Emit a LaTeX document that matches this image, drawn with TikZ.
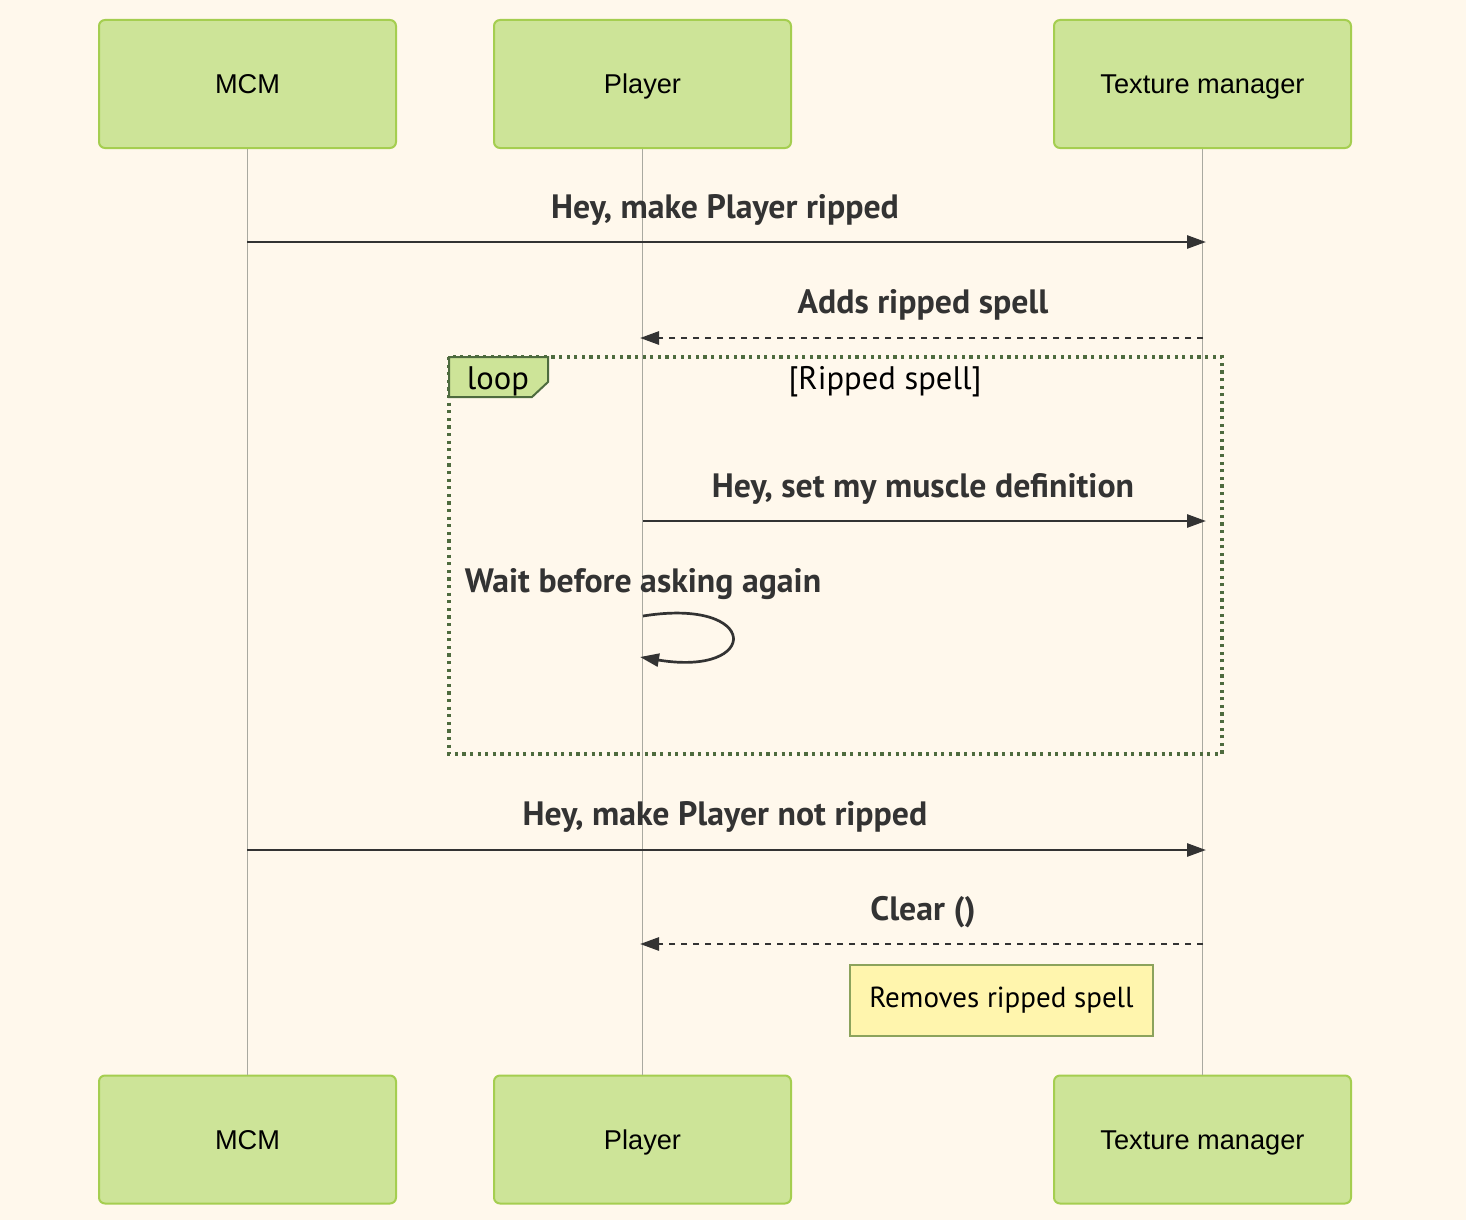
\documentclass[tikz,border=0pt]{standalone}
\usepackage{fontspec}
\setmainfont{Liberation Sans}
\newfontfamily\msgfont{PT Sans}
\usetikzlibrary{arrows.meta}
\definecolor{bg}{HTML}{FFF8EC}
\definecolor{actfill}{HTML}{CDE498}
\definecolor{actborder}{HTML}{A5CE50}
\definecolor{life}{HTML}{A9A9A0}
\definecolor{msg}{HTML}{333333}
\definecolor{loopc}{HTML}{4E6B3E}
\definecolor{notefill}{HTML}{FFF5AD}
\definecolor{noteborder}{HTML}{8CA35C}
\begin{document}
\begin{tikzpicture}[x=0.5pt,y=-0.5pt,
  actor/.style={draw=actborder, fill=actfill, line width=1pt, rounded corners=3pt,
    minimum width=148.5pt, minimum height=64pt, inner sep=0pt,
    text height=9.7pt, text depth=0pt,
    font=\fontsize{13.6}{16}\selectfont},
  lifeline/.style={draw=life, line width=0.75pt},
  msgline/.style={draw=msg, line width=1.35pt, -{Triangle[length=9.5pt,width=6.5pt]}},
  reply/.style={msgline, dash pattern=on 3.2pt off 2.8pt},
  msglabel/.style={font=\msgfont\bfseries\fontsize{16.9}{20}\selectfont, text=msg,
    inner sep=0pt, anchor=base},
  looptext/.style={font=\msgfont\fontsize{16.3}{19}\selectfont, text=black, inner sep=0pt},
  loopbox/.style={draw=loopc, line width=1.6pt, dash pattern=on 1.6pt off 2.2pt},
  looptab/.style={draw=loopc, fill=actfill, line width=1pt},
  notebox/.style={draw=noteborder, fill=notefill, line width=1pt,
    minimum width=151.5pt, minimum height=35.5pt, inner sep=0pt,
    font=\msgfont\fontsize{14.5}{17}\selectfont}
]
\useasboundingbox[fill=bg] (0,0) rectangle (1466,1220);

% actors
\node[actor] (mcmT) at (247.5,84) {MCM};
\node[actor] (plT)  at (642.5,84) {Player};
\node[actor] (tmT)  at (1202.5,84) {Texture manager};
\node[actor] (mcmB) at (247.5,1139.5) {MCM};
\node[actor] (plB)  at (642.5,1139.5) {Player};
\node[actor] (tmB)  at (1202.5,1139.5) {Texture manager};

% lifelines
\draw[lifeline] (mcmT.south) -- (mcmB.north);
\draw[lifeline] (plT.south) -- (plB.north);
\draw[lifeline] (tmT.south) -- (tmB.north);

% loop frame
\draw[loopbox] (449,357) rectangle (1222,754);
\draw[looptab] (449,357) -- (548,357) -- (548,382) -- (532,397) -- (449,397) -- cycle;
\node[looptext] (looplbl) at (498,381) {loop};
\node[looptext] (loopcond) at (885,382) {[Ripped spell]};

% message coordinates
\coordinate (m1s) at (247,242);  \coordinate (m1e) at (1206,242);
\coordinate (m2s) at (1203,338); \coordinate (m2e) at (640,338);
\coordinate (m3s) at (643,521);  \coordinate (m3e) at (1206,521);
\coordinate (m4s) at (643,616);  \coordinate (m4e) at (640,657);
\coordinate (m5s) at (247,850);  \coordinate (m5e) at (1206,850);
\coordinate (m6s) at (1203,944); \coordinate (m6e) at (640,944);

% messages
\draw[msgline] (m1s) -- (m1e);
\node[msglabel] (l1) at (725,218) {Hey, make Player ripped};
\draw[reply] (m2s) -- (m2e);
\node[msglabel] (l2) at (923,313) {Adds ripped spell};
\draw[msgline] (m3s) -- (m3e);
\node[msglabel] (l3) at (923,497) {Hey, set my muscle definition};
\draw[msgline] (m4s) .. controls (761,597) and (761,677) .. (m4e);
\node[msglabel] (l4) at (643,592) {Wait before asking again};
\draw[msgline] (m5s) -- (m5e);
\node[msglabel] (l5) at (725,825) {Hey, make Player not ripped};
\draw[reply] (m6s) -- (m6e);
\node[msglabel] (l6) at (923,920) {Clear ()};

% note
\node[notebox] (note) at (1001.5,1000.5) {Removes ripped spell};
\end{tikzpicture}
\end{document}
